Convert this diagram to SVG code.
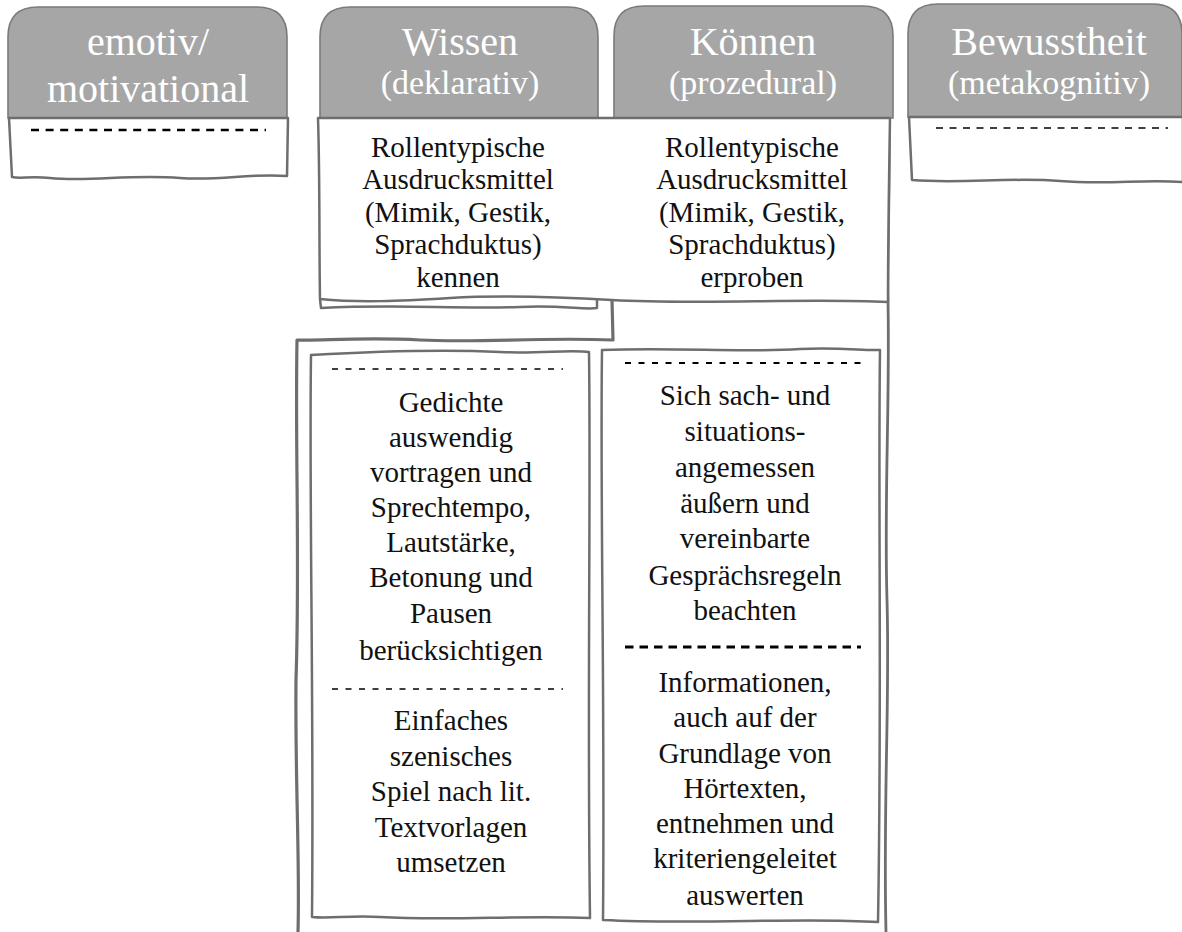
<svg xmlns="http://www.w3.org/2000/svg" width="1182" height="932" viewBox="0 0 1182 932">
<style>
.tab{fill:#a6a6a6;stroke:#7a7a7a;stroke-width:1.6}
.box{fill:#ffffff;stroke:#6e6e6e;stroke-width:2.5;stroke-linejoin:round}
.ln{fill:none;stroke:#6e6e6e;stroke-width:2.5;stroke-linejoin:round}
.h1{font-family:"Liberation Serif","Times New Roman",serif;font-size:40px;fill:#ffffff;text-anchor:middle}
.h2{font-family:"Liberation Serif","Times New Roman",serif;font-size:34px;fill:#ffffff;text-anchor:middle}
.t{font-family:"Liberation Serif","Times New Roman",serif;font-size:29px;fill:#111111;text-anchor:middle}
.dA{stroke:#000;stroke-width:2.6;stroke-dasharray:8 6.6;fill:none}
.dB{stroke:#000;stroke-width:1.5;stroke-dasharray:7 6.5;fill:none}
.dC{stroke:#000;stroke-width:1.6;stroke-dasharray:6 7.5;fill:none}
.dD{stroke:#000;stroke-width:3;stroke-dasharray:8.5 6;fill:none}
</style>

<!-- frame behind boxes -->
<g id="frame">
<path class="ln" d="M612,300 L613,340 C540,337 480,343 420,340 C360,337 320,341 297,340 C295,450 300,560 296,680 C295,780 300,860 298,932" style="stroke-width:3.2"/>
<path class="ln" d="M889,118 C890,200 887,260 888,302 C890,400 884,500 887,600 C890,700 883,800 886,932" style="stroke-width:2.8"/>
</g>

<g id="emotiv">
<path class="tab" d="M8,118 L8,37 Q8,7 38,7 L257,7 Q287,7 287,37 L287,118 Z"/>
<text class="h1" x="148" y="55">emotiv/</text>
<text class="h1" x="148" y="102">motivational</text>
<path class="box" d="M9,118 L288,118 L287,176 C250,173 220,181 180,178 C130,174 90,182 50,178 C30,176 20,179 12,177 Z"/>
<line class="dA" x1="31" y1="130" x2="266" y2="130"/>
</g>

<g id="wissen">
<path class="tab" d="M320,118 L320,37 Q320,7 350,7 L568,7 Q598,7 598,37 L598,118 Z"/>
<text class="h1" x="460" y="55">Wissen</text>
<text class="h2" x="460" y="94">(deklarativ)</text>
</g>

<g id="koennen">
<path class="tab" d="M614,118 L614,36 Q614,6 644,6 L863,6 Q893,6 893,36 L893,118 Z"/>
<text class="h1" x="753" y="55">Können</text>
<text class="h2" x="753" y="94">(prozedural)</text>
</g>

<g id="bewusstheit">
<path class="tab" d="M908,117 L908,34 Q908,4 938,4 L1152,4 Q1182,4 1182,34 L1182,117 Z"/>
<text class="h1" x="1049" y="55">Bewusstheit</text>
<text class="h2" x="1049" y="94">(metakognitiv)</text>
<path class="box" d="M909,117 L1183,117 L1183,182 C1140,179 1110,185 1060,181 C1010,177 960,184 912,180 Z"/>
<line class="dB" x1="936" y1="128" x2="1168" y2="128"/>
</g>

<g id="top-boxes">
<path class="box" d="M318,118 L890,118 C889,180 888,240 888,302 C800,298 700,305 612,300 C560,297 500,295 450,298 C400,301 360,303 320,299 C319,240 320,180 318,118 Z"/>
<path class="ln" d="M320,299 L321,308 C400,304 450,309 520,307 C560,305 585,310 597,308 L597,298"/>
<g id="wissen-top">
<text class="t" x="458" y="157">Rollentypische</text>
<text class="t" x="458" y="189">Ausdrucksmittel</text>
<text class="t" x="458" y="222">(Mimik, Gestik,</text>
<text class="t" x="458" y="254">Sprachduktus)</text>
<text class="t" x="458" y="287">kennen</text>
</g>
<g id="koennen-top">
<text class="t" x="752" y="157">Rollentypische</text>
<text class="t" x="752" y="189">Ausdrucksmittel</text>
<text class="t" x="752" y="222">(Mimik, Gestik,</text>
<text class="t" x="752" y="254">Sprachduktus)</text>
<text class="t" x="752" y="287">erproben</text>
</g>
</g>

<g id="wissen-bottom">
<path class="box" d="M311,355 C380,351 440,349 500,352 C540,354 570,349 589,352 C591,500 587,700 590,918 C520,915 450,921 380,917 C350,915 330,919 312,917 C314,700 309,500 311,355 Z"/>
<line class="dC" x1="332" y1="369" x2="563" y2="369"/>
<text class="t" x="451" y="412">Gedichte</text>
<text class="t" x="451" y="447">auswendig</text>
<text class="t" x="451" y="482">vortragen und</text>
<text class="t" x="451" y="517">Sprechtempo,</text>
<text class="t" x="451" y="552">Lautstärke,</text>
<text class="t" x="451" y="587">Betonung und</text>
<text class="t" x="451" y="623">Pausen</text>
<text class="t" x="451" y="660">berücksichtigen</text>
<line class="dC" x1="332" y1="689" x2="563" y2="689"/>
<text class="t" x="451" y="730">Einfaches</text>
<text class="t" x="451" y="766">szenisches</text>
<text class="t" x="451" y="801">Spiel nach lit.</text>
<text class="t" x="451" y="837">Textvorlagen</text>
<text class="t" x="451" y="872">umsetzen</text>
</g>

<g id="koennen-bottom">
<path class="box" d="M602,350 C680,347 740,353 800,349 C840,347 865,351 880,350 C878,500 882,700 878,922 C800,917 700,925 603,920 C605,700 600,500 602,350 Z"/>
<line class="dC" x1="625" y1="363" x2="861" y2="363" style="stroke-width:2"/>
<text class="t" x="745" y="405">Sich sach- und</text>
<text class="t" x="745" y="441">situations-</text>
<text class="t" x="745" y="477">angemessen</text>
<text class="t" x="745" y="513">äußern und</text>
<text class="t" x="745" y="548">vereinbarte</text>
<text class="t" x="745" y="585">Gesprächsregeln</text>
<text class="t" x="745" y="620">beachten</text>
<line class="dD" x1="625" y1="647" x2="861" y2="647"/>
<text class="t" x="745" y="692">Informationen,</text>
<text class="t" x="745" y="727">auch auf der</text>
<text class="t" x="745" y="763">Grundlage von</text>
<text class="t" x="745" y="798">Hörtexten,</text>
<text class="t" x="745" y="833">entnehmen und</text>
<text class="t" x="745" y="868">kriteriengeleitet</text>
<text class="t" x="745" y="905">auswerten</text>
</g>

<g id="connectors"></g>
</svg>
